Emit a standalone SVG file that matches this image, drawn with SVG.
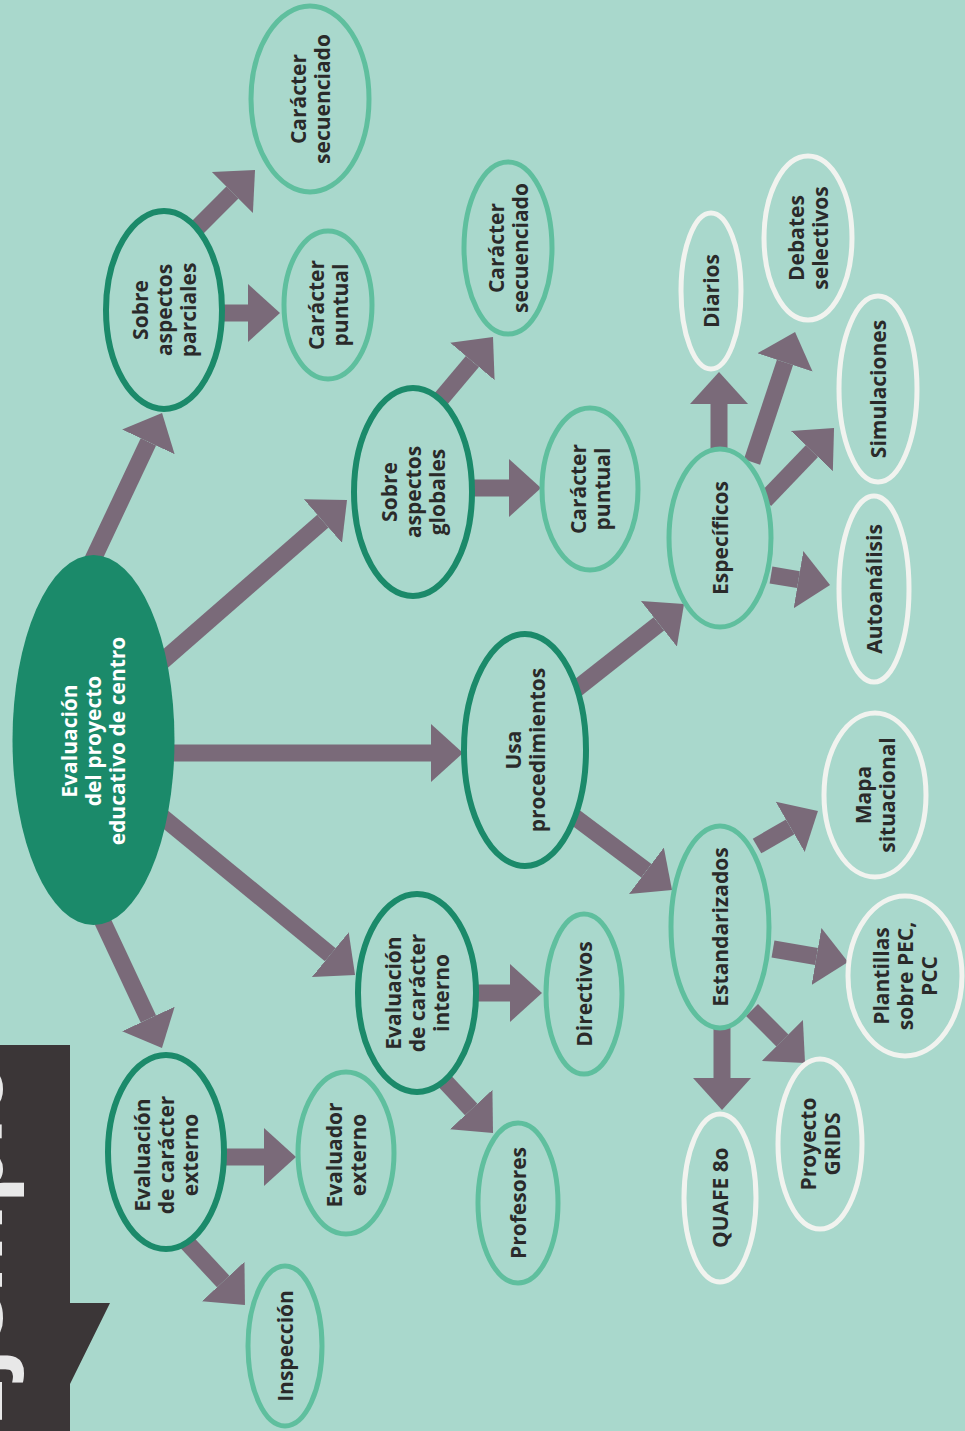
<svg xmlns="http://www.w3.org/2000/svg" width="965" height="1431" viewBox="0 0 965 1431">
<defs>
<style>
.bg{fill:#a9d8cc}
.dk{fill:#a9d8cc;stroke:#1b8a6a;stroke-width:6}
.lt{fill:#a9d8cc;stroke:#5fbf9e;stroke-width:5}
.wh{fill:#a9d8cc;stroke:#f1f3ef;stroke-width:5}
.t{font-family:"Open Sans","Liberation Sans",sans-serif;font-weight:700;font-size:21px;fill:#2a2a2a;text-anchor:middle}
.tw{fill:#ffffff}
.c line{stroke:#7a6a79;stroke-width:17;marker-end:url(#ah)}
</style>
<marker id="ah" markerUnits="userSpaceOnUse" markerWidth="40" markerHeight="64" viewBox="0 -32 40 64" refX="0" refY="0" orient="auto">
<path d="M0,-29 L32,0 L0,29 Z" fill="#7a6a79"/>
</marker>
</defs>
<rect class="bg" x="0" y="0" width="965" height="1431"/>

<g id="tab">
<polygon points="0,1045 70,1045 70,1303 110,1303 70,1384 70,1431 0,1431" fill="#3b3637"/>
<text transform="translate(2,1428) rotate(-90)" font-family="Open Sans, Liberation Sans, sans-serif" font-weight="700" font-size="92" fill="#e8e8e8">Ejemplo</text>
</g>

<g id="connectors" class="c">
<line x1="88" y1="570" x2="148.4" y2="441.9"/>
<line x1="150" y1="672" x2="322.9" y2="521.1"/>
<line x1="170" y1="753" x2="431" y2="753"/>
<line x1="160" y1="815" x2="330.3" y2="954.7"/>
<line x1="95" y1="905" x2="148.4" y2="1019"/>
<line x1="222" y1="1157" x2="264" y2="1157"/>
<line x1="180" y1="1235" x2="223.2" y2="1281.5"/>
<line x1="474" y1="993" x2="510" y2="993"/>
<line x1="440" y1="1076" x2="471.2" y2="1109.5"/>
<line x1="220" y1="313" x2="248" y2="313"/>
<line x1="195" y1="230" x2="232.4" y2="192.6"/>
<line x1="470" y1="488" x2="509" y2="488"/>
<line x1="440" y1="400" x2="472.4" y2="361.5"/>
<line x1="575" y1="690" x2="658.9" y2="623.8"/>
<line x1="572" y1="815" x2="646.4" y2="870.8"/>
<line x1="719" y1="452" x2="719" y2="404"/>
<line x1="752" y1="462" x2="785" y2="362.4"/>
<line x1="765" y1="500" x2="811.9" y2="451.1"/>
<line x1="771" y1="575" x2="798.5" y2="579.6"/>
<line x1="757" y1="846" x2="790.2" y2="826.9"/>
<line x1="773" y1="949" x2="816.5" y2="956.5"/>
<line x1="752" y1="1010" x2="782.4" y2="1040.4"/>
<line x1="722" y1="1025" x2="722" y2="1078"/>
</g>

<g id="n_main">
<ellipse cx="93.5" cy="740" rx="81" ry="185" fill="#1b8a6a"/>
<text class="t tw" transform="translate(93.5,741) rotate(-90)"><tspan x="0" y="-16.5">Evaluación</tspan><tspan x="0" y="7.5">del proyecto</tspan><tspan x="0" y="31.5">educativo de centro</tspan></text>
</g>

<g id="n_parciales">
<ellipse class="dk" cx="164" cy="310" rx="58" ry="99"/>
<text class="t" transform="translate(164,310) rotate(-90)"><tspan x="0" y="-16.5">Sobre</tspan><tspan x="0" y="7.5">aspectos</tspan><tspan x="0" y="31.5">parciales</tspan></text>
</g>
<g id="n_puntual1">
<ellipse class="lt" cx="328" cy="305" rx="44" ry="74"/>
<text class="t" transform="translate(328,305) rotate(-90)"><tspan x="0" y="-4.5">Carácter</tspan><tspan x="0" y="19.5">puntual</tspan></text>
</g>
<g id="n_secuenciado1">
<ellipse class="lt" cx="310" cy="99" rx="59" ry="93"/>
<text class="t" transform="translate(310,99) rotate(-90)"><tspan x="0" y="-4.5">Carácter</tspan><tspan x="0" y="19.5">secuenciado</tspan></text>
</g>

<g id="n_globales">
<ellipse class="dk" cx="413" cy="492" rx="59" ry="104"/>
<text class="t" transform="translate(413,492) rotate(-90)"><tspan x="0" y="-16.5">Sobre</tspan><tspan x="0" y="7.5">aspectos</tspan><tspan x="0" y="31.5">globales</tspan></text>
</g>
<g id="n_puntual2">
<ellipse class="lt" cx="590" cy="489" rx="48" ry="81"/>
<text class="t" transform="translate(590,489) rotate(-90)"><tspan x="0" y="-4.5">Carácter</tspan><tspan x="0" y="19.5">puntual</tspan></text>
</g>
<g id="n_secuenciado2">
<ellipse class="lt" cx="508" cy="248" rx="44" ry="86"/>
<text class="t" transform="translate(508,248) rotate(-90)"><tspan x="0" y="-4.5">Carácter</tspan><tspan x="0" y="19.5">secuenciado</tspan></text>
</g>

<g id="n_usa">
<ellipse class="dk" cx="525" cy="750" rx="61" ry="116"/>
<text class="t" transform="translate(525,750) rotate(-90)"><tspan x="0" y="-4.5">Usa</tspan><tspan x="0" y="19.5">procedimientos</tspan></text>
</g>
<g id="n_especificos">
<ellipse class="lt" cx="720" cy="538" rx="51" ry="89"/>
<text class="t" transform="translate(720,538) rotate(-90)"><tspan x="0" y="7.5">Específicos</tspan></text>
</g>
<g id="n_estandarizados">
<ellipse class="lt" cx="720" cy="927" rx="49" ry="101"/>
<text class="t" transform="translate(720,927) rotate(-90)"><tspan x="0" y="7.5">Estandarizados</tspan></text>
</g>

<g id="n_diarios">
<ellipse class="wh" cx="711" cy="291" rx="30" ry="78"/>
<text class="t" transform="translate(711,291) rotate(-90)"><tspan x="0" y="7.5">Diarios</tspan></text>
</g>
<g id="n_debates">
<ellipse class="wh" cx="808" cy="238" rx="44" ry="82"/>
<text class="t" transform="translate(808,238) rotate(-90)"><tspan x="0" y="-4.5">Debates</tspan><tspan x="0" y="19.5">selectivos</tspan></text>
</g>
<g id="n_simulaciones">
<ellipse class="wh" cx="878" cy="389" rx="39" ry="93"/>
<text class="t" transform="translate(878,389) rotate(-90)"><tspan x="0" y="7.5">Simulaciones</tspan></text>
</g>
<g id="n_autoanalisis">
<ellipse class="wh" cx="874" cy="589" rx="35" ry="93"/>
<text class="t" transform="translate(874,589) rotate(-90)"><tspan x="0" y="7.5">Autoanálisis</tspan></text>
</g>
<g id="n_mapa">
<ellipse class="wh" cx="875" cy="795" rx="51" ry="82"/>
<text class="t" transform="translate(875,795) rotate(-90)"><tspan x="0" y="-4.5">Mapa</tspan><tspan x="0" y="19.5">situacional</tspan></text>
</g>
<g id="n_plantillas">
<ellipse class="wh" cx="905" cy="976" rx="57" ry="80"/>
<text class="t" transform="translate(905,976) rotate(-90)"><tspan x="0" y="-16.5">Plantillas</tspan><tspan x="0" y="7.5">sobre PEC,</tspan><tspan x="0" y="31.5">PCC</tspan></text>
</g>
<g id="n_grids">
<ellipse class="wh" cx="820" cy="1144" rx="42" ry="85"/>
<text class="t" transform="translate(820,1144) rotate(-90)"><tspan x="0" y="-4.5">Proyecto</tspan><tspan x="0" y="19.5">GRIDS</tspan></text>
</g>
<g id="n_quafe">
<ellipse class="wh" cx="720" cy="1198" rx="36" ry="84"/>
<text class="t" transform="translate(720,1198) rotate(-90)" style="font-variant-numeric:oldstyle-nums"><tspan x="0" y="7.5">QUAFE 80</tspan></text>
</g>

<g id="n_interno">
<ellipse class="dk" cx="417" cy="993" rx="59" ry="99"/>
<text class="t" transform="translate(417,993) rotate(-90)"><tspan x="0" y="-16.5">Evaluación</tspan><tspan x="0" y="7.5">de carácter</tspan><tspan x="0" y="31.5">interno</tspan></text>
</g>
<g id="n_directivos">
<ellipse class="lt" cx="584" cy="994" rx="38" ry="80"/>
<text class="t" transform="translate(584,994) rotate(-90)"><tspan x="0" y="7.5">Directivos</tspan></text>
</g>
<g id="n_profesores">
<ellipse class="lt" cx="518" cy="1203" rx="40" ry="80"/>
<text class="t" transform="translate(518,1203) rotate(-90)"><tspan x="0" y="7.5">Profesores</tspan></text>
</g>

<g id="n_externo">
<ellipse class="dk" cx="166" cy="1152" rx="58" ry="97"/>
<text class="t" transform="translate(166,1155) rotate(-90)"><tspan x="0" y="-16.5">Evaluación</tspan><tspan x="0" y="7.5">de carácter</tspan><tspan x="0" y="31.5">externo</tspan></text>
</g>
<g id="n_evaluador">
<ellipse class="lt" cx="346" cy="1153" rx="48" ry="81"/>
<text class="t" transform="translate(346,1155) rotate(-90)"><tspan x="0" y="-4.5">Evaluador</tspan><tspan x="0" y="19.5">externo</tspan></text>
</g>
<g id="n_inspeccion">
<ellipse class="lt" cx="285" cy="1346" rx="37" ry="80"/>
<text class="t" transform="translate(285,1346) rotate(-90)"><tspan x="0" y="7.5">Inspección</tspan></text>
</g>
</svg>
